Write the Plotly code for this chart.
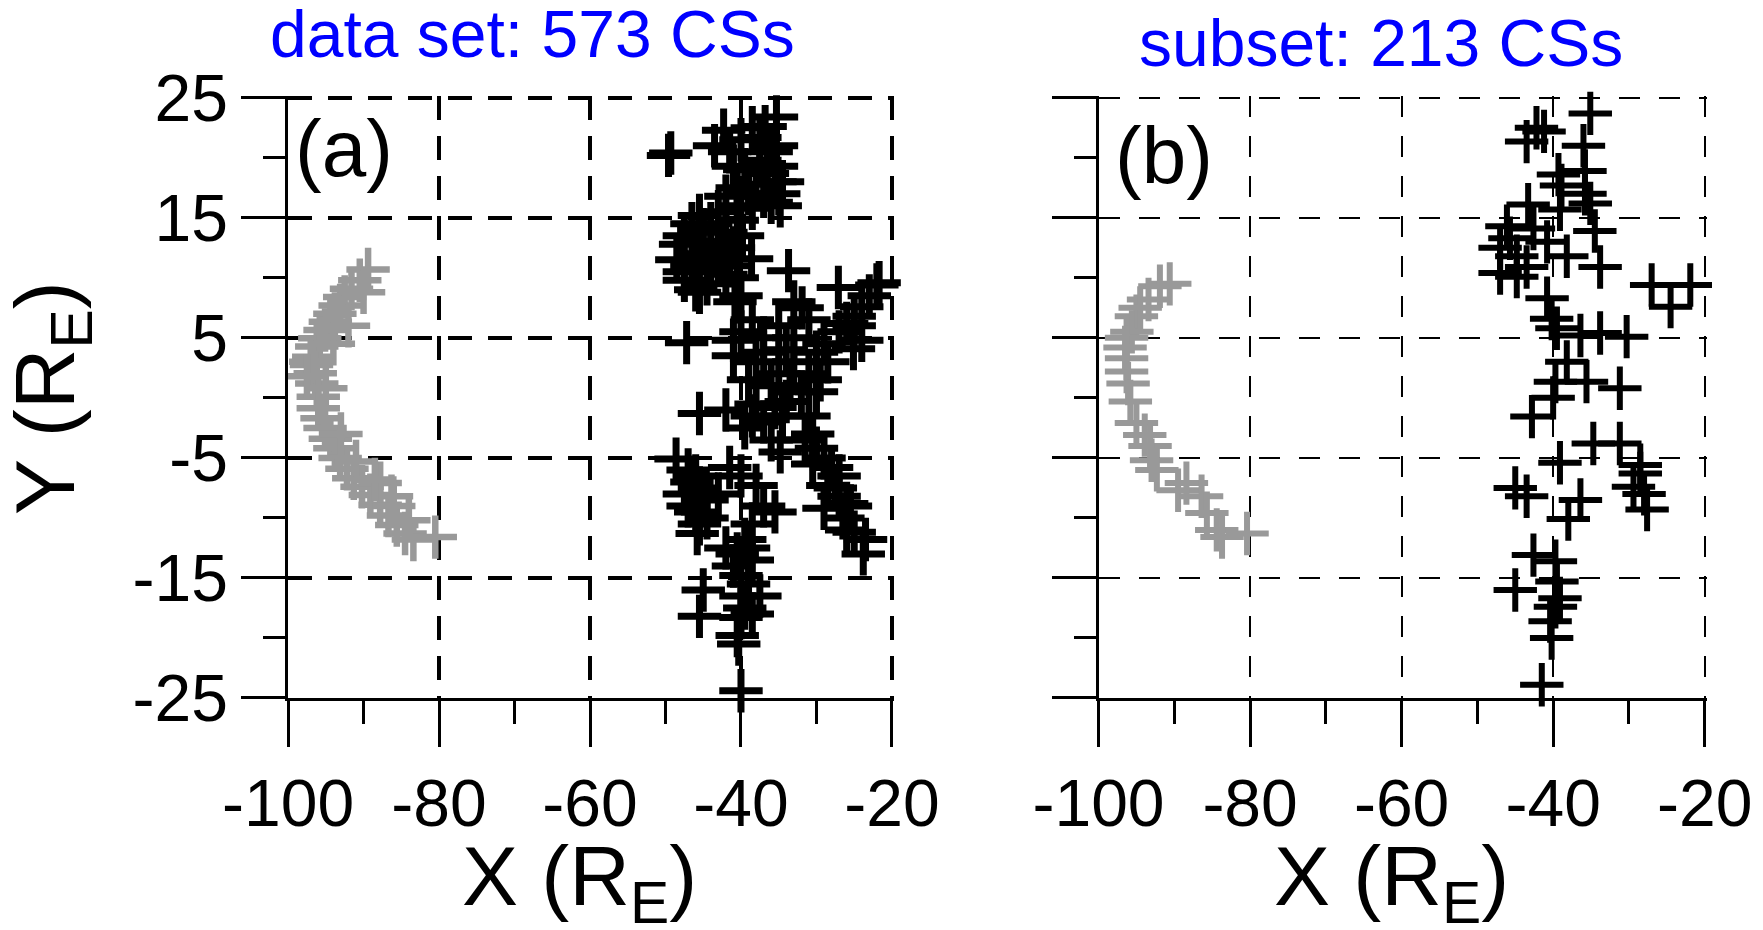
import plotly.graph_objects as go

# ---------------- data ----------------
a_black_x = [-35.3, -49.6, -49.3, -42.3, -40.0, -43.5, -36.0, -41.0, -36.5, -38.0, -39.0, -36.0, -35.0, -42.0,
             -37.5, -35.3, -35.3, -37.5, -34.5, -37.0, -34.8, -40.5, -38.5,
             -46.5, -47.5, -45.0, -44.0, -42.0, -46.0, -43.0, -41.0, -47.5, -47.5, -44.5, -42.0, -40.0, -38.6,
             -45.5, -43.0, -40.5, -48.0, -44.0, -41.5, -46.0, -40.8, -33.7, -27.1, -22.0, -21.7, -23.0, -24.0,
             -25.0, -26.0, -31.9, -33.0,
             -47.2, -40.0, -37.0, -35.0, -33.0, -31.0, -29.0, -27.0, -25.0, -24.0, -38.0, -35.0, -33.0, -31.0,
             -28.5, -36.0, -32.0, -29.5, -41.0, -41.0, -38.5, -30.0, -25.1,
             -45.5, -42.0, -39.5, -37.0, -36.0, -34.5, -31.0, -30.5, -38.0, -34.0,
             -31.5, -30.0, -29.0, -28.0, -27.0, -28.5, -27.0, -29.0, -26.5, -25.0, -23.5, -23.8, -26.0,
             -48.6, -47.0, -45.5, -47.0, -46.0, -44.5, -45.5, -45.8, -43.0, -46.5,
             -40.0, -38.0, -37.0, -35.5, -38.5, -39.5, -42.0, -40.5, -38.5, -40.0, -39.0, -37.5, -39.5, -40.0,
             -45.0, -45.5, -40.5, -40.3, -40.0, -34.8, -41.5,
             -45.0, -43.0, -46.5, -44.0, -42.5, -39.8, -40.5, -48.5, -45.5, -39.5, -41.5, -38.5, -36.8, -40.0,
             -35.5, -39.0, -37.0, -34.0, -30.0, -33.5, -38.5, -35.5, -30.5, -27.5, -26.0, -25.5, -47.5, -44.5,
             -46.0, -41.0, -39.0, -40.0, -38.5]
a_black_y = [23.4, 20.2, 20.4, 22.3, 21.5, 21.0, 20.5, 19.3, 18.7, 17.8, 17.0, 16.3, 17.0, 16.8,
             21.7, 21.0, 19.3, 19.8, 18.0, 16.8, 16.0, 17.5, 15.8,
             14.5, 13.5, 13.0, 14.5, 13.8, 12.0, 11.5, 12.5, 10.5, 9.8, 9.5, 10.3, 8.5, 11.6,
             15.2, 15.5, 14.8, 12.8, 12.5, 11.0, 9.0, 8.0, 10.6, 9.2, 9.4, 9.6, 8.5, 7.6,
             6.8, 6.2, 7.5, 8.0,
             4.6, 5.5, 5.0, 6.0, 5.0, 6.5, 4.5, 5.5, 6.0, 4.8, 3.0, 2.0, 3.0, 2.0,
             3.0, 1.0, 0.5, 1.5, 3.5, 4.8, 6.5, 3.8, 4.1,
             -1.3, -1.0, -2.5, -2.0, -3.5, -1.5, -1.5, -3.0, -0.5, -0.3,
             -3.5, -4.2, -5.0, -5.8, -6.5, -7.3, -8.2, -9.2, -10.0, -11.2, -11.8, -13.0, -8.8,
             -5.1, -6.0, -7.5, -9.0, -9.5, -8.5, -10.5, -11.3, -8.0, -7.0,
             -6.5, -7.3, -9.0, -9.5, -10.5, -11.8, -12.5, -13.0, -13.5, -14.8, -15.5, -16.5, -17.5, -18.3,
             -16.0, -18.2, -19.8, -20.5, -24.4, -4.5, -5.8,
             14.0, 13.0, 11.0, 10.8, 12.0, 13.5, 10.0, 11.5, 8.8, 19.0, 20.5, 22.5, 22.6, 16.0,
             18.0, 1.5, 3.8, 4.0, 0.5, 1.0, -1.5, -0.8, -5.5, -7.5, -11.0, -9.0, -8.0, -10.0,
             -6.5, -14.0, -12.5, -16.5, -18.0]

a_gray_x = [-89.4, -90.5, -91.6, -92.5, -93.1, -93.8, -94.4, -95.1, -95.8, -96.2, -96.6, -96.9, -96.4,
            -96.2, -96.0, -96.0, -95.5, -95.1, -94.4, -93.8, -93.1, -92.2, -91.3, -90.2, -89.1, -87.8,
            -86.7, -85.6, -84.5, -83.4, -80.5, -87.8, -86.3, -90.0, -92.0, -94.0, -97.0, -97.5, -95.0,
            -93.0, -91.0, -88.5, -86.0, -84.0]
a_gray_y = [10.7, 9.8, 9.1, 8.4, 7.7, 7.0, 6.35, 5.66, 4.96, 4.27, 3.43, 2.74, 2.05,
            1.2, 0.1, -0.87, -1.7, -2.5, -3.4, -4.2, -5.0, -5.9, -6.7, -7.4, -8.1, -8.9,
            -9.8, -10.6, -11.3, -11.8, -11.6, -7.1, -8.2, 8.8, 6.0, 4.5, 3.0, 1.8, 0.8,
            -3.0, -5.3, -6.8, -9.0, -10.2]

b_black_x = [-35.1, -42.2, -43.5, -41.2, -36.0, -35.8, -39.3, -35.8, -35.1, -43.3, -38.9, -39.1, -46.1,
             -45.7, -42.6, -40.8, -47.0, -44.8, -43.5, -47.0, -38.2, -33.8, -44.8, -40.8, -40.2, -39.5,
             -36.4, -33.8, -30.3, -27.0, -21.9, -24.5, -38.2, -39.7, -35.6, -31.2, -40.0, -34.5,
             -42.8, -34.7, -31.2, -39.1, -28.5, -29.4, -27.6, -28.5, -45.0, -43.5, -36.4, -38.0, -42.6,
             -39.7, -45.0, -39.1, -39.7, -40.4, -40.2, -41.5, -39.5, -28.0]
b_black_y = [23.7, 22.5, 21.35, 22.2, 21.0, 18.9, 18.6, 17.0, 16.2, 16.1, 17.7, 15.7, 14.3,
             13.3, 14.1, 13.0, 12.5, 11.8, 10.9, 10.4, 11.8, 10.9, 10.1, 8.3, 6.6, 5.8,
             5.2, 5.4, 5.1, 9.4, 9.4, 7.6, 3.0, 1.35, 1.35, 0.8, 0.0, 13.9,
             -1.56, -3.8, -3.8, -5.4, -6.3, -7.4, -9.3, -5.6, -7.5, -8.2, -8.5, -10.1, -13.1,
             -13.6, -16.0, -16.7, -17.4, -18.6, -20.0, -23.9, -15.3, -8.0]

b_gray_x = [-90.6, -91.9, -93.4, -95.0, -95.6, -96.3, -96.3, -96.3, -96.1, -95.8, -95.0, -93.9, -93.2,
            -93.0, -92.3, -89.5, -88.4, -86.4, -85.7, -84.4, -83.7, -80.4, -94.5, -96.5]
b_gray_y = [9.5, 9.3, 8.2, 6.8, 5.5, 5.0, 3.3, 2.2, 1.2, -0.3, -2.1, -3.1, -4.0,
            -5.2, -6.0, -7.7, -7.1, -8.2, -9.6, -11.0, -11.6, -11.3, 7.5, 4.2]

x_major = [-100, -80, -60, -40, -20]
x_minor = [-90, -70, -50, -30]
y_major = [25, 15, 5, -5, -15, -25]
y_minor = [20, 10, 0, -10, -20]

titles = ["data set: 573 CSs", "subset: 213 CSs"]
panel_labels = ["(a)", "(b)"]

# ---------------- figure ----------------
W, H = 1763, 930
FONT = "Arial, Liberation Sans, sans-serif"
GRAY = "#999999"

fig = go.Figure()


def add(xs, ys, color, lw, xa, ya):
    fig.add_trace(go.Scatter(
        x=xs, y=ys, mode="markers", xaxis=xa, yaxis=ya,
        marker=dict(symbol="cross-thin", size=31, color=color,
                    line=dict(color=color, width=lw)),
        cliponaxis=False, showlegend=False, hoverinfo="skip"))


add(a_gray_x, a_gray_y, GRAY, 6.5, "x", "y")
add(a_black_x, a_black_y, "black", 7, "x", "y")
add(b_gray_x, b_gray_y, GRAY, 6, "x2", "y2")
add(b_black_x, b_black_y, "black", 6, "x2", "y2")

TICKFONT = dict(family=FONT, size=66, color="black")

# ranges are padded a hair past -20 / 25 so that the dashed grid lines at
# the top and right edges are kept (plotly drops grid lines exactly on the ends)
XR = [-100, -19.75]
YR = [-25, 25.15]


def xax(domain, anchor, gw, dash):
    return dict(domain=domain, anchor=anchor, range=XR, tickmode="array",
                tickvals=x_major, ticktext=[str(v) for v in x_major], automargin=False,
                ticks="outside", ticklen=46, tickwidth=3, tickcolor="black",
                showline=True, linewidth=3, linecolor="black",
                showgrid=True, gridcolor="black", gridwidth=gw, griddash=dash,
                zeroline=False, tickfont=TICKFONT,
                minor=dict(tickmode="array", tickvals=x_minor, ticks="outside", ticklen=23,
                           tickwidth=3, tickcolor="black", showgrid=False))


def yax(anchor, labels, gw, dash):
    return dict(domain=[0.2495, 0.8968], anchor=anchor, range=YR, tickmode="array",
                tickvals=y_major, ticktext=[str(v) for v in y_major], showticklabels=labels,
                automargin=False,
                ticks="outside", ticklen=44, tickwidth=3, tickcolor="black",
                showline=True, linewidth=3, linecolor="black",
                showgrid=True, gridcolor="black", gridwidth=gw, griddash=dash,
                zeroline=False, tickfont=TICKFONT,
                minor=dict(tickmode="array", tickvals=y_minor, ticks="outside", ticklen=22,
                           tickwidth=3, tickcolor="black", showgrid=False))


fig.update_layout(
    width=W, height=H, margin=dict(l=0, r=0, t=0, b=0, autoexpand=False),
    paper_bgcolor="white", plot_bgcolor="white",
    xaxis=xax([0.1634, 0.5070], "y", 3.5, "24px,16px"),
    yaxis=yax("x", True, 3.5, "24px,16px"),
    xaxis2=xax([0.6231, 0.9680], "y2", 2, "21px,19px"),
    yaxis2=yax("x2", False, 2, "21px,19px"),
)

ann = []
# titles
ann.append(dict(text=titles[0], x=532 / W, y=1 - 34 / H, xref="paper", yref="paper",
                showarrow=False, xanchor="center", yanchor="middle",
                font=dict(family=FONT, size=66, color="#0000FF")))
ann.append(dict(text=titles[1], x=1381 / W, y=1 - 43 / H, xref="paper", yref="paper",
                showarrow=False, xanchor="center", yanchor="middle",
                font=dict(family=FONT, size=66, color="#0000FF")))
# axis titles
for cx in (579, 1391):
    ann.append(dict(text="X (R<sub>E</sub>)", x=cx / W, y=1 - 882 / H, xref="paper", yref="paper",
                    showarrow=False, xanchor="center", yanchor="middle",
                    font=dict(family=FONT, size=84, color="black")))
ann.append(dict(text="Y (R<sub>E</sub>)", x=51 / W, y=1 - 398 / H, xref="paper", yref="paper",
                showarrow=False, xanchor="center", yanchor="middle", textangle=-90,
                font=dict(family=FONT, size=84, color="black")))
# panel labels
ann.append(dict(text=panel_labels[0], x=-92.6, y=20.8, xref="x", yref="y", showarrow=False,
                xanchor="center", yanchor="middle", font=dict(family=FONT, size=80, color="black")))
ann.append(dict(text=panel_labels[1], x=-91.35, y=20.15, xref="x2", yref="y2", showarrow=False,
                xanchor="center", yanchor="middle", font=dict(family=FONT, size=80, color="black")))
fig.update_layout(annotations=ann)

fig.write_html("out.html")
